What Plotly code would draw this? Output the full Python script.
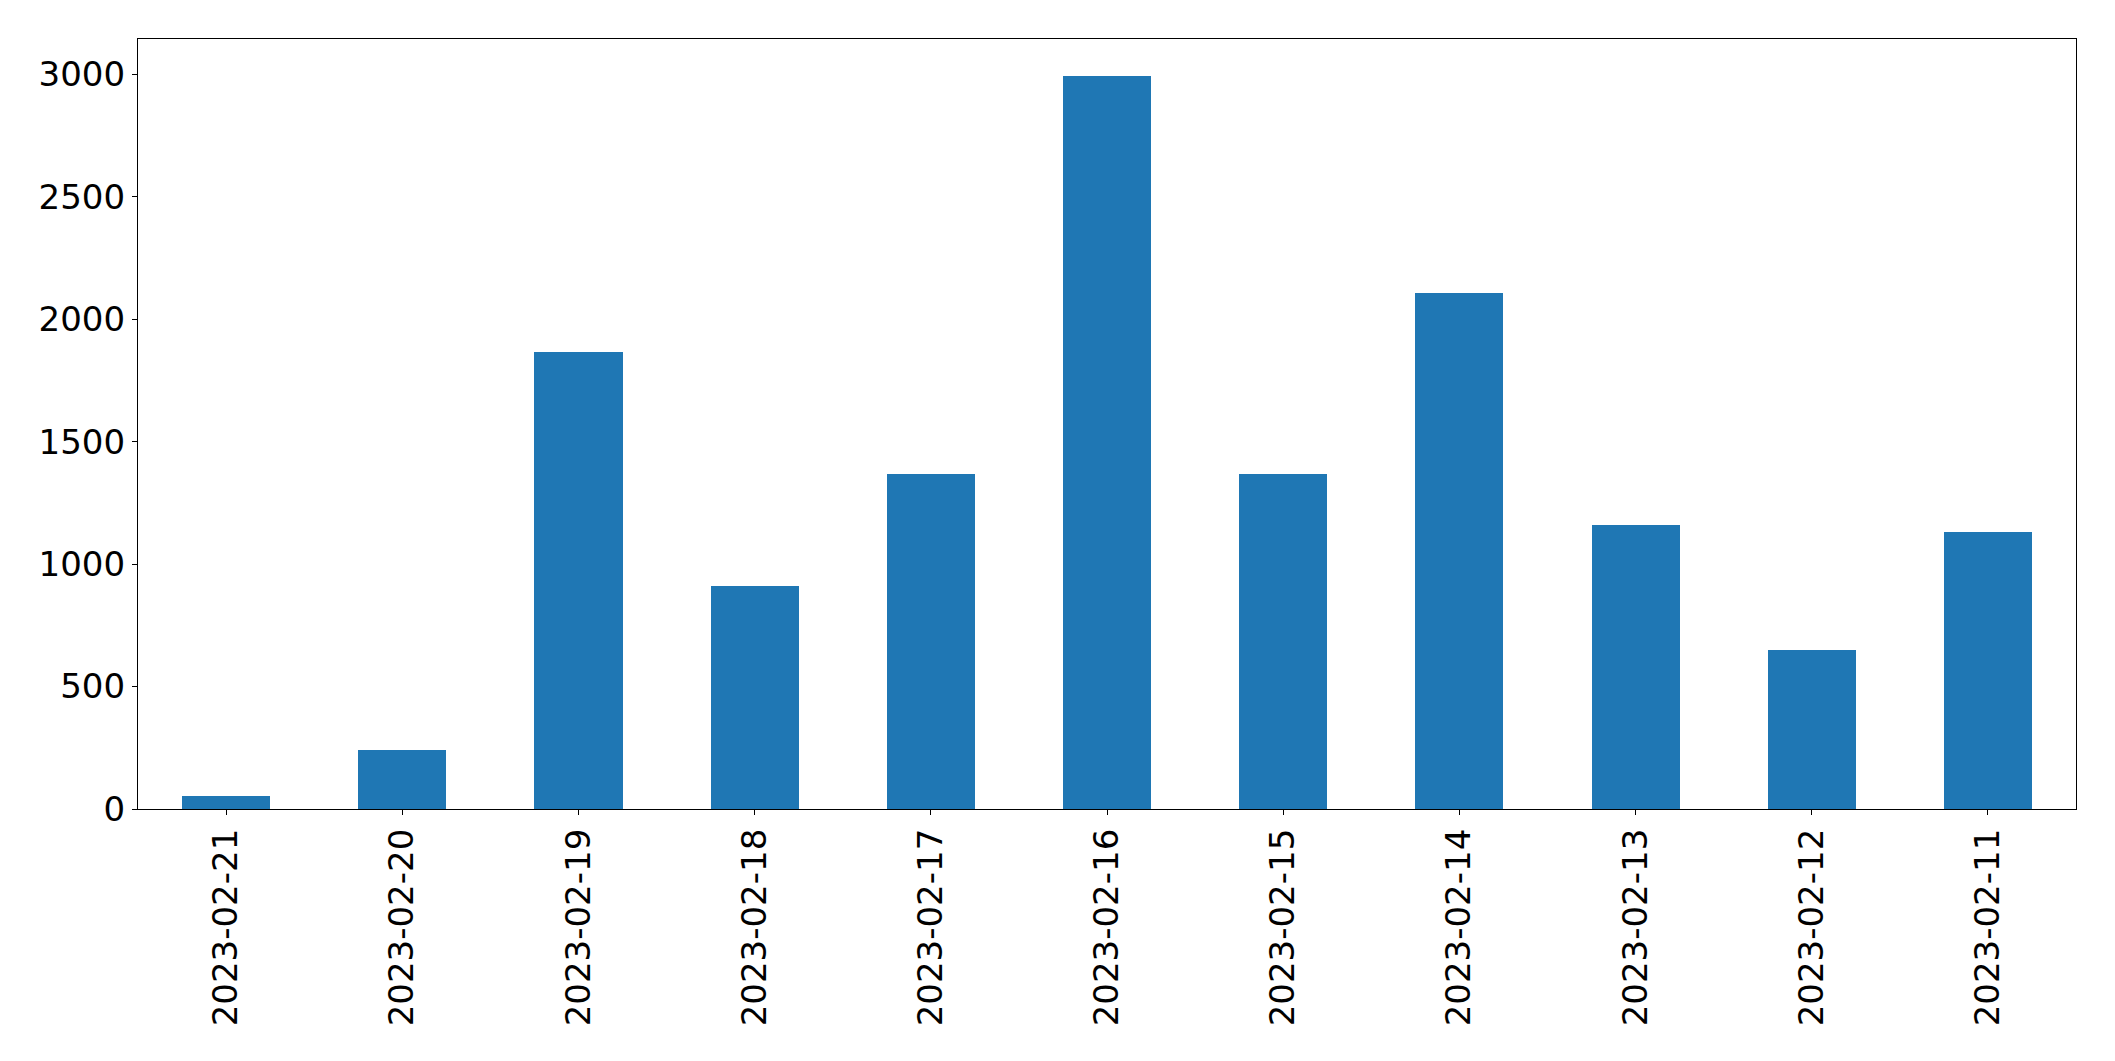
import plotly.graph_objects as go

dates = ["2023-02-21", "2023-02-20", "2023-02-19", "2023-02-18", "2023-02-17", "2023-02-16",
         "2023-02-15", "2023-02-14", "2023-02-13", "2023-02-12", "2023-02-11"]
counts = [53, 241, 1865, 910, 1367, 2995, 1367, 2106, 1159, 649, 1131]
y_ticks = [0, 500, 1000, 1500, 2000, 2500, 3000]

fig = go.Figure()
fig.add_trace(go.Bar(x=dates, y=counts, width=0.5, marker=dict(color="#1f77b4", line=dict(width=0))))

font = dict(family="DejaVu Sans", size=34, color="black")
fig.update_layout(
    width=2115, height=1061,
    margin=dict(l=138, r=39, t=39, b=252),
    paper_bgcolor="white", plot_bgcolor="white",
    showlegend=False,
    font=font,
    bargap=0,
)
fig.update_xaxes(
    type="category", range=[-0.5, 10.5],
    tickangle=-90, ticks="outside", ticklen=5, tickwidth=1.3, tickcolor="black",
    showline=True, linecolor="black", linewidth=1.3, mirror=True,
    showgrid=False, zeroline=False, tickfont=font,
)
fig.update_yaxes(
    range=[0, 3145], tickvals=y_ticks, ticks="outside", ticklen=5, tickwidth=1.3, tickcolor="black",
    showline=True, linecolor="black", linewidth=1.3, mirror=True,
    showgrid=False, zeroline=False, tickfont=font,
)
fig.write_html("out.html", config={"displayModeBar": False},
               post_script="document.body.style.margin='0';document.body.style.overflow='hidden';")
